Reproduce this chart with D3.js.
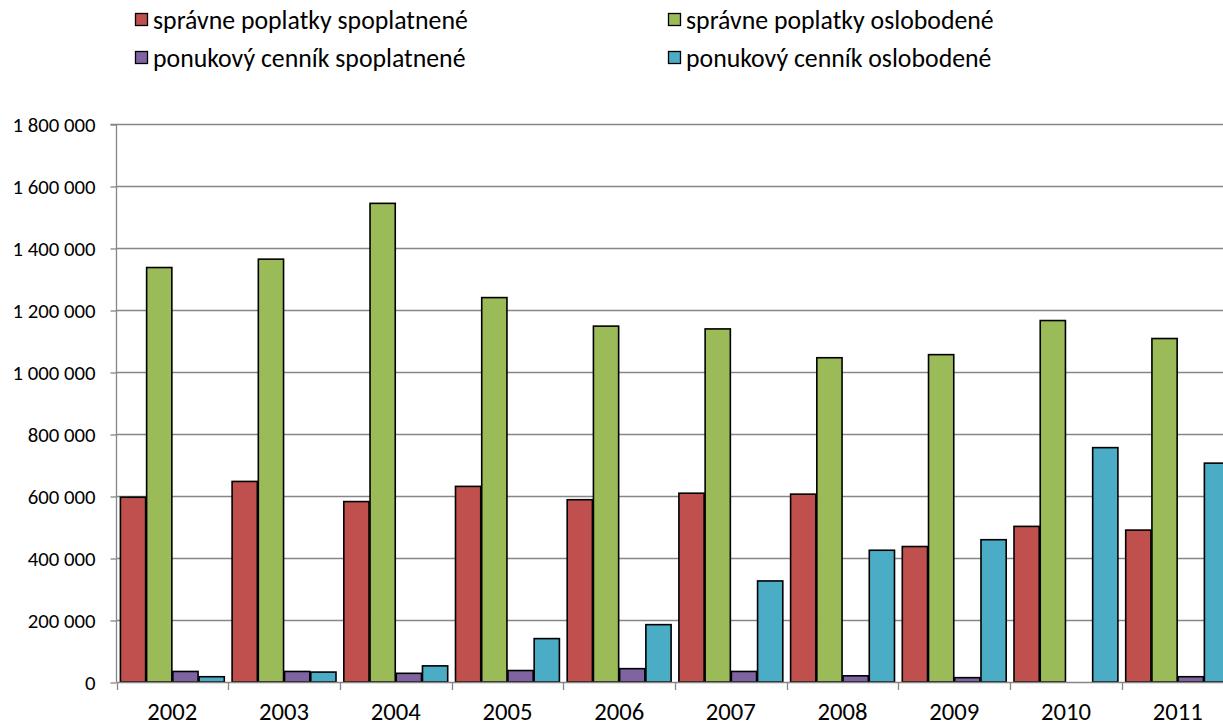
<!DOCTYPE html>
<html><head><meta charset="utf-8">
<script src="https://cdn.jsdelivr.net/npm/d3@7"></script>
<style>html,body{margin:0;padding:0;background:#fff;}svg{display:block;}</style>
</head><body>
<svg id="c" width="1223" height="726"></svg>
<script>
const categories = ["2002","2003","2004","2005","2006","2007","2008","2009","2010","2011"];
const seriesNames = ["správne poplatky spoplatnené","správne poplatky oslobodené","ponukový cenník spoplatnené","ponukový cenník oslobodené"];
const seriesColors = ["#C0504D","#9BBB59","#8064A2","#4BACC6"];
const spravneSpoplatnene = [596000,647000,582000,631000,588000,609000,606000,437000,502000,490000];
const spravneOslobodene = [1337000,1364000,1544000,1240000,1148000,1139000,1046000,1056000,1166000,1108000];
const ponukovySpoplatnene = [34000,34000,28000,37000,43000,34000,20000,14000,0,17000];
const ponukovyOslobodene = [17000,32000,52000,140000,185000,326000,425000,459000,756000,706000];
const yTicks = [0,200000,400000,600000,800000,1000000,1200000,1400000,1600000,1800000];
const yTickLabels = ["0","200 000","400 000","600 000","800 000","1 000 000","1 200 000","1 400 000","1 600 000","1 800 000"];

const seriesValues = [spravneSpoplatnene, spravneOslobodene, ponukovySpoplatnene, ponukovyOslobodene];
const FONT = "Carlito, Calibri, 'Open Sans', 'Noto Sans', sans-serif";

const svg = d3.select("#c");
const pLeft = 116.5, pTop = 124, pBottom = 682, bandW = 111.7;
const pRight = pLeft + bandW * categories.length;

const x = d3.scaleBand().domain(categories).range([pLeft, pRight]).padding(0);
const inner = 3.4;
const x1 = d3.scaleBand().domain(d3.range(seriesNames.length)).range([inner, bandW - inner]).padding(0);
const y = d3.scaleLinear().domain([0, 1800000]).range([pBottom, pTop]);

function fitOne(node, target) {
  const fs = parseFloat(node.getAttribute("font-size"));
  const w = node.getComputedTextLength();
  return w > 0 ? fs * target / w : fs;
}

// gridlines
svg.append("g").selectAll("line").data(yTicks.filter(d => d > 0)).join("line")
  .attr("x1", pLeft).attr("x2", 1223)
  .attr("y1", d => Math.round(y(d)) + 0.5).attr("y2", d => Math.round(y(d)) + 0.5)
  .attr("stroke", "#868686").attr("stroke-width", 1.3);

// y axis
const yAxis = d3.axisLeft(y).tickValues(yTicks).tickSize(6).tickFormat((d,i) => yTickLabels[i]);
const gy = svg.append("g").attr("transform", `translate(${pLeft},0)`).call(yAxis);
gy.select(".domain").attr("stroke", "#868686").attr("stroke-width", 1.3).attr("d", `M-6,${pTop + 0.5}H0V${pBottom}`);
gy.selectAll(".tick line").attr("stroke", "#868686").attr("stroke-width", 1.3)
  .attr("transform", "translate(0,0.5)");
const yt = gy.selectAll(".tick text").attr("x", -21).attr("dy", "0.36em")
  .attr("font-family", FONT).attr("font-size", 16).attr("fill", "#000");
const yfs = fitOne(yt.nodes()[yt.size() - 1], 83);
yt.attr("font-size", yfs.toFixed(2));

// bars
const groups = svg.append("g").selectAll("g").data(categories).join("g")
  .attr("transform", d => `translate(${x(d)},0)`);
groups.selectAll("rect").data((c, ci) => seriesValues.map((vals, si) => ({si, v: vals[ci]})).filter(d => d.v > 0))
  .join("rect")
  .attr("x", d => x1(d.si) + 0.5)
  .attr("width", x1.bandwidth() - 1)
  .attr("y", d => y(d.v))
  .attr("height", d => pBottom - y(d.v))
  .attr("fill", d => seriesColors[d.si])
  .attr("stroke", "#000").attr("stroke-width", 1.6);

// x axis
const xAxis = d3.axisBottom(x).tickSize(0).tickSizeOuter(0);
const gx = svg.append("g").attr("transform", `translate(0,${pBottom})`).call(xAxis);
gx.select(".domain").attr("stroke", "#868686").attr("stroke-width", 1.3).attr("d", `M${pLeft},0.5H1223`);
const xt = gx.selectAll(".tick text").attr("y", 38).attr("dy", 0)
  .attr("font-family", FONT).attr("font-size", 22).attr("fill", "#000");
const xfs = fitOne(xt.nodes()[0], 50);
xt.attr("font-size", xfs.toFixed(2));
// boundary ticks
svg.append("g").selectAll("line").data(d3.range(categories.length + 1)).join("line")
  .attr("x1", i => Math.round(pLeft + i * bandW) + 0.5).attr("x2", i => Math.round(pLeft + i * bandW) + 0.5)
  .attr("y1", pBottom).attr("y2", pBottom + 8)
  .attr("stroke", "#868686").attr("stroke-width", 1.3);

// legend
const legendPos = [[135,20],[668,20],[135,58],[668,58]];
const lg = svg.append("g").selectAll("g").data(seriesNames).join("g")
  .attr("transform", (d,i) => `translate(${legendPos[i][0]},${legendPos[i][1]})`);
lg.append("rect").attr("x", 0.5).attr("y", -6.5).attr("width", 12).attr("height", 12)
  .attr("fill", (d,i) => seriesColors[i]).attr("stroke", "#000").attr("stroke-width", 1.3);
const lt = lg.append("text").attr("x", 18).attr("y", 0).attr("dy", "0.35em")
  .attr("font-family", FONT).attr("font-size", 18).attr("fill", "#000").text(d => d);
const lfs = fitOne(lt.nodes()[0], 315);
lt.attr("font-size", lfs.toFixed(2));
</script>
</body></html>
